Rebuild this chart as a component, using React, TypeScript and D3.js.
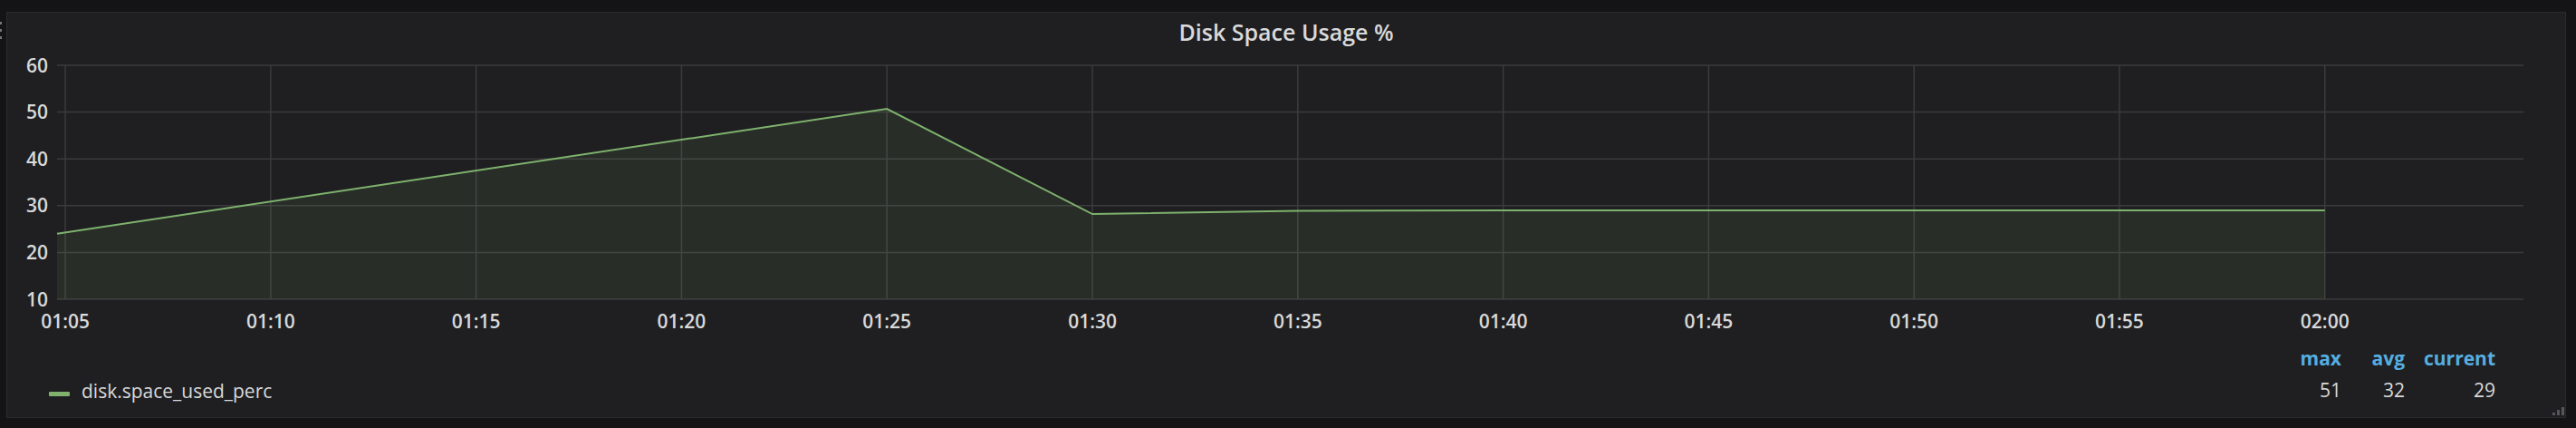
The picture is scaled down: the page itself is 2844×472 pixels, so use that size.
import React, { useEffect, useRef } from "react"
import * as d3 from "d3"

// series: disk.space_used_perc (sample times + values)
const sampleTimes = ["01:04:48", "01:25:00", "01:30:00", "01:35:00", "01:40:00", "01:45:00", "01:50:00", "01:55:00", "02:00:00"]
const spaceUsedPerc = [24, 50.7, 28.2, 28.9, 29, 29, 29, 29, 29]

const windowStart = "01:04:48"
const windowEnd = "02:04:50"
const yTicks = [10, 20, 30, 40, 50, 60]

const seriesName = "disk.space_used_perc"
const statNames = ["max", "avg", "current"]
const statValues = [51, 32, 29]

const W = 2844
const H = 472

const App = () => {
	const ref = useRef<SVGSVGElement>(null)

	useEffect(() => {
		document.body.style.margin = "0"
		document.body.style.background = "#141416"

		const parse = d3.timeParse("%H:%M:%S")
		const data = sampleTimes.map((t, i) => ({ t: parse(t) as Date, v: spaceUsedPerc[i] }))

		const marginLeft = 63
		const plotRight = 2786
		const plotTop = 72
		const plotBottom = 330
		const font = "'Open Sans', sans-serif"
		const textColor = "#d8d9da"

		const x = d3
			.scaleTime()
			.domain([parse(windowStart) as Date, parse(windowEnd) as Date])
			.range([marginLeft, plotRight])

		const y = d3.scaleLinear().domain([10, 60]).range([plotBottom, plotTop])

		const svg = d3.select(ref.current)
		svg.selectAll("*").remove()

		// background + panel
		svg.append("rect").attr("width", W).attr("height", H).attr("fill", "#141416")
		svg
			.append("rect")
			.attr("x", 7.5)
			.attr("y", 13.5)
			.attr("width", 2825)
			.attr("height", 447)
			.attr("fill", "#1f1f21")
			.attr("stroke", "#2b2b2e")

		// little panel menu dots on the far left
		;[24, 32, 40].forEach(yy => {
			svg.append("rect").attr("x", 0).attr("y", yy).attr("width", 2).attr("height", 3).attr("fill", "#777")
		})

		// title
		svg
			.append("text")
			.attr("x", 1420)
			.attr("y", 45)
			.attr("text-anchor", "middle")
			.style("font-family", font)
			.style("font-weight", 600)
			.style("font-size", "25px")
			.style("fill", textColor)
			.text("Disk Space Usage %")

		const xTicks = x.ticks(d3.timeMinute.every(5) as d3.TimeInterval)

		// grid
		const grid = svg.append("g").attr("stroke", "#3b3b3e").attr("stroke-width", 1.5)
		yTicks.forEach(v => {
			grid
				.append("line")
				.attr("x1", marginLeft)
				.attr("x2", plotRight)
				.attr("y1", y(v))
				.attr("y2", y(v))
		})
		xTicks.forEach(t => {
			grid
				.append("line")
				.attr("x1", x(t))
				.attr("x2", x(t))
				.attr("y1", plotTop)
				.attr("y2", plotBottom)
		})

		// area + line
		const area = d3
			.area<{ t: Date; v: number }>()
			.x(d => x(d.t))
			.y0(plotBottom)
			.y1(d => y(d.v))
		svg.append("path").datum(data).attr("d", area).attr("fill", "#7eb26d").attr("fill-opacity", 0.1)

		const line = d3
			.line<{ t: Date; v: number }>()
			.x(d => x(d.t))
			.y(d => y(d.v))
		svg
			.append("path")
			.datum(data)
			.attr("d", line)
			.attr("fill", "none")
			.attr("stroke", "#7eb26d")
			.attr("stroke-width", 2)

		// y axis labels
		yTicks.forEach(v => {
			svg
				.append("text")
				.attr("x", 53)
				.attr("y", y(v) + 7.5)
				.attr("text-anchor", "end")
				.style("font-family", font)
				.style("font-size", "21px")
				.style("font-weight", 600)
				.style("fill", textColor)
				.text(v)
		})

		// x axis labels
		const fmt = d3.timeFormat("%H:%M")
		xTicks.forEach(t => {
			svg
				.append("text")
				.attr("x", x(t))
				.attr("y", 362)
				.attr("text-anchor", "middle")
				.style("font-family", font)
				.style("font-size", "21px")
				.style("font-weight", 600)
				.style("fill", textColor)
				.text(fmt(t))
		})

		// legend
		svg.append("rect").attr("x", 54).attr("y", 432).attr("width", 23).attr("height", 5).attr("rx", 1).attr("fill", "#7eb26d")
		svg
			.append("text")
			.attr("x", 90)
			.attr("y", 439)
			.style("font-family", font)
			.style("font-size", "21px")
			.style("fill", textColor)
			.text(seriesName)

		const statRight = [2585, 2655, 2755]
		statNames.forEach((name, i) => {
			svg
				.append("text")
				.attr("x", statRight[i])
				.attr("y", 403)
				.attr("text-anchor", "end")
				.style("font-family", font)
				.style("font-size", "21px")
				.style("font-weight", 700)
				.style("fill", "#55aee0")
				.text(name)
			svg
				.append("text")
				.attr("x", statRight[i])
				.attr("y", 438)
				.attr("text-anchor", "end")
				.style("font-family", font)
				.style("font-size", "21px")
				.style("fill", textColor)
				.text(statValues[i])
		})

		// resize handle
		;[0, 1, 2].forEach(i => {
			svg
				.append("rect")
				.attr("x", 2818 + i * 5)
				.attr("y", 455 - i * 3)
				.attr("width", 3)
				.attr("height", 3 + i * 3)
				.attr("fill", "#55565a")
		})
	}, [])

	return <svg ref={ref} width={W} height={H} style={{ display: "block" }}></svg>
}

export default App
